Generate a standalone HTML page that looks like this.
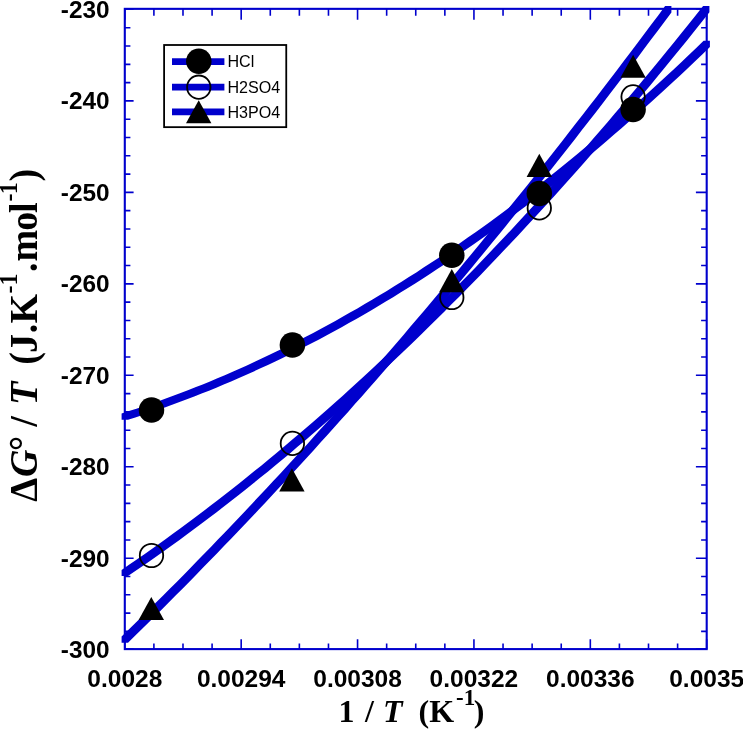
<!DOCTYPE html>
<html lang="en"><head><meta charset="utf-8"><title>Plot</title>
<style>html,body{margin:0;padding:0;background:#fff}svg{display:block}</style></head>
<body>
<svg width="743" height="729" viewBox="0 0 743 729">
<rect width="743" height="729" fill="#fff"/>
<rect x="124.8" y="8.85" width="581.90" height="640.25" fill="none" stroke="#0000cd" stroke-width="2.1"/>
<path d="M124.80,649.1v-9.8M124.80,8.85v10.8M153.90,649.1v-5.6M153.90,8.85v6.9M182.99,649.1v-5.6M182.99,8.85v6.9M212.09,649.1v-5.6M212.09,8.85v6.9M241.18,649.1v-9.8M241.18,8.85v10.8M270.28,649.1v-5.6M270.28,8.85v6.9M299.37,649.1v-5.6M299.37,8.85v6.9M328.47,649.1v-5.6M328.47,8.85v6.9M357.56,649.1v-9.8M357.56,8.85v10.8M386.66,649.1v-5.6M386.66,8.85v6.9M415.75,649.1v-5.6M415.75,8.85v6.9M444.85,649.1v-5.6M444.85,8.85v6.9M473.94,649.1v-9.8M473.94,8.85v10.8M503.04,649.1v-5.6M503.04,8.85v6.9M532.13,649.1v-5.6M532.13,8.85v6.9M561.23,649.1v-5.6M561.23,8.85v6.9M590.32,649.1v-9.8M590.32,8.85v10.8M619.42,649.1v-5.6M619.42,8.85v6.9M648.51,649.1v-5.6M648.51,8.85v6.9M677.61,649.1v-5.6M677.61,8.85v6.9M706.70,649.1v-9.8M706.70,8.85v10.8M124.8,8.85h8.8M706.7,8.85h-10.8M124.8,27.74h5.6M706.7,27.74h-5.6M124.8,46.04h5.6M706.7,46.04h-5.6M124.8,64.33h5.6M706.7,64.33h-5.6M124.8,82.62h5.6M706.7,82.62h-5.6M124.8,100.91h8.8M706.7,100.91h-10.8M124.8,119.21h5.6M706.7,119.21h-5.6M124.8,137.50h5.6M706.7,137.50h-5.6M124.8,155.79h5.6M706.7,155.79h-5.6M124.8,174.09h5.6M706.7,174.09h-5.6M124.8,192.38h8.8M706.7,192.38h-10.8M124.8,210.67h5.6M706.7,210.67h-5.6M124.8,228.96h5.6M706.7,228.96h-5.6M124.8,247.26h5.6M706.7,247.26h-5.6M124.8,265.55h5.6M706.7,265.55h-5.6M124.8,283.84h8.8M706.7,283.84h-10.8M124.8,302.14h5.6M706.7,302.14h-5.6M124.8,320.43h5.6M706.7,320.43h-5.6M124.8,338.72h5.6M706.7,338.72h-5.6M124.8,357.01h5.6M706.7,357.01h-5.6M124.8,375.31h8.8M706.7,375.31h-10.8M124.8,393.60h5.6M706.7,393.60h-5.6M124.8,411.89h5.6M706.7,411.89h-5.6M124.8,430.19h5.6M706.7,430.19h-5.6M124.8,448.48h5.6M706.7,448.48h-5.6M124.8,466.77h8.8M706.7,466.77h-10.8M124.8,485.06h5.6M706.7,485.06h-5.6M124.8,503.36h5.6M706.7,503.36h-5.6M124.8,521.65h5.6M706.7,521.65h-5.6M124.8,539.94h5.6M706.7,539.94h-5.6M124.8,558.24h8.8M706.7,558.24h-10.8M124.8,576.53h5.6M706.7,576.53h-5.6M124.8,594.82h5.6M706.7,594.82h-5.6M124.8,613.11h5.6M706.7,613.11h-5.6M124.8,631.41h5.6M706.7,631.41h-5.6M124.8,649.10h8.8M706.7,649.10h-10.8" stroke="#0000cd" stroke-width="1.6" fill="none"/>
<path d="M121.6,419.7L121.6,413.4L129.0,411.1L136.4,408.7L143.7,406.3L151.1,403.7L158.5,401.2L165.8,398.5L173.2,395.8L180.6,393.0L187.9,390.2L195.3,387.3L202.7,384.4L210.0,381.4L217.4,378.3L224.8,375.2L232.1,372.0L239.5,368.7L246.9,365.4L254.2,362.0L261.6,358.6L269.0,355.1L276.3,351.6L283.7,347.9L291.1,344.3L298.4,340.5L305.8,336.7L313.2,332.9L320.5,328.9L327.9,324.9L335.3,320.9L342.6,316.8L350.0,312.6L357.4,308.4L364.7,304.1L372.1,299.8L379.5,295.3L386.8,290.9L394.2,286.3L401.6,281.7L408.9,277.1L416.3,272.4L423.6,267.6L431.0,262.8L438.4,257.9L445.7,252.9L453.1,247.9L460.5,242.8L467.8,237.6L475.2,232.4L482.6,227.2L489.9,221.9L497.3,216.5L504.7,211.0L512.0,205.5L519.4,199.9L526.8,194.3L534.1,188.6L541.5,182.9L548.9,177.0L556.2,171.2L563.6,165.2L571.0,159.2L578.3,153.2L585.7,147.1L593.1,140.9L600.4,134.6L607.8,128.3L615.2,122.0L622.5,115.5L629.9,109.1L637.3,102.5L644.6,95.9L652.0,89.2L659.4,82.5L666.7,75.7L674.1,68.9L681.5,62.0L688.8,55.0L696.2,47.9L703.6,40.8L709.9,40.8L709.9,47.1L702.5,54.2L695.1,61.3L687.8,68.3L680.4,75.2L673.0,82.0L665.7,88.8L658.3,95.5L650.9,102.2L643.6,108.8L636.2,115.4L628.8,121.8L621.5,128.3L614.1,134.6L606.7,140.9L599.4,147.2L592.0,153.4L584.6,159.5L577.3,165.5L569.9,171.5L562.5,177.5L555.2,183.3L547.8,189.2L540.4,194.9L533.1,200.6L525.7,206.2L518.3,211.8L511.0,217.3L503.6,222.8L496.2,228.2L488.9,233.5L481.5,238.7L474.1,243.9L466.8,249.1L459.4,254.2L452.0,259.2L444.7,264.2L437.3,269.1L429.9,273.9L422.6,278.7L415.2,283.4L407.9,288.0L400.5,292.6L393.1,297.2L385.8,301.6L378.4,306.1L371.0,310.4L363.7,314.7L356.3,318.9L348.9,323.1L341.6,327.2L334.2,331.2L326.8,335.2L319.5,339.2L312.1,343.0L304.7,346.8L297.4,350.6L290.0,354.2L282.6,357.9L275.3,361.4L267.9,364.9L260.5,368.3L253.2,371.7L245.8,375.0L238.4,378.3L231.1,381.5L223.7,384.6L216.3,387.7L209.0,390.7L201.6,393.6L194.2,396.5L186.9,399.3L179.5,402.1L172.1,404.8L164.8,407.5L157.4,410.0L150.0,412.6L142.7,415.0L135.3,417.4L128.0,419.7z" fill="#0000cd"/>
<path d="M121.6,576.1L121.6,569.9L129.0,564.8L136.4,559.8L143.7,554.7L151.1,549.5L158.5,544.3L165.8,539.0L173.2,533.6L180.5,528.3L187.9,522.8L195.3,517.3L202.6,511.8L210.0,506.1L217.3,500.5L224.7,494.8L232.1,489.0L239.4,483.2L246.8,477.3L254.1,471.3L261.5,465.4L268.9,459.3L276.2,453.2L283.6,447.1L290.9,440.8L298.3,434.6L305.7,428.3L313.0,421.9L320.4,415.5L327.8,409.0L335.1,402.4L342.5,395.9L349.8,389.2L357.2,382.5L364.6,375.7L371.9,368.9L379.3,362.1L386.6,355.2L394.0,348.2L401.4,341.2L408.7,334.1L416.1,326.9L423.4,319.7L430.8,312.5L438.2,305.2L445.5,297.8L452.9,290.4L460.2,283.0L467.6,275.4L475.0,267.9L482.3,260.2L489.7,252.5L497.0,244.8L504.4,237.0L511.8,229.2L519.1,221.3L526.5,213.3L533.9,205.3L541.2,197.2L548.6,189.1L555.9,180.9L563.3,172.7L570.7,164.4L578.0,156.1L585.4,147.7L592.7,139.2L600.1,130.7L607.5,122.2L614.8,113.6L622.2,104.9L629.5,96.2L636.9,87.4L644.3,78.6L651.6,69.7L659.0,60.7L666.3,51.7L673.7,42.7L681.1,33.6L688.4,24.4L695.8,15.2L703.1,6.0L709.4,6.0L709.4,12.3L702.1,21.5L694.7,30.7L687.4,39.9L680.0,49.0L672.6,58.0L665.3,67.0L657.9,76.0L650.6,84.9L643.2,93.7L635.8,102.5L628.5,111.2L621.1,119.9L613.8,128.5L606.4,137.0L599.0,145.5L591.7,154.0L584.3,162.4L577.0,170.7L569.6,179.0L562.2,187.2L554.9,195.4L547.5,203.5L540.2,211.6L532.8,219.6L525.4,227.6L518.1,235.5L510.7,243.3L503.3,251.1L496.0,258.8L488.6,266.5L481.3,274.2L473.9,281.7L466.5,289.3L459.2,296.7L451.8,304.1L444.5,311.5L437.1,318.8L429.7,326.0L422.4,333.2L415.0,340.4L407.7,347.5L400.3,354.5L392.9,361.5L385.6,368.4L378.2,375.2L370.9,382.0L363.5,388.8L356.1,395.5L348.8,402.2L341.4,408.7L334.1,415.3L326.7,421.8L319.3,428.2L312.0,434.6L304.6,440.9L297.2,447.1L289.9,453.4L282.5,459.5L275.2,465.6L267.8,471.7L260.4,477.6L253.1,483.6L245.7,489.5L238.4,495.3L231.0,501.1L223.6,506.8L216.3,512.4L208.9,518.1L201.6,523.6L194.2,529.1L186.8,534.6L179.5,539.9L172.1,545.3L164.8,550.6L157.4,555.8L150.0,561.0L142.7,566.1L135.3,571.1L128.0,576.1z" fill="#0000cd"/>
<path d="M121.6,642.7L121.6,636.4L128.5,629.7L135.4,623.0L142.3,616.2L149.2,609.4L156.0,602.6L162.9,595.7L169.8,588.8L176.7,581.9L183.6,574.9L190.4,567.9L197.3,560.8L204.2,553.8L211.1,546.7L217.9,539.5L224.8,532.4L231.7,525.2L238.6,518.0L245.5,510.7L252.3,503.4L259.2,496.1L266.1,488.7L273.0,481.3L279.9,473.9L286.7,466.4L293.6,458.9L300.5,451.4L307.4,443.9L314.2,436.3L321.1,428.6L328.0,421.0L334.9,413.3L341.8,405.6L348.6,397.8L355.5,390.1L362.4,382.2L369.3,374.4L376.2,366.5L383.0,358.6L389.9,350.7L396.8,342.7L403.7,334.7L410.5,326.6L417.4,318.5L424.3,310.4L431.2,302.3L438.1,294.1L444.9,285.9L451.8,277.7L458.7,269.4L465.6,261.1L472.5,252.8L479.3,244.4L486.2,236.0L493.1,227.6L500.0,219.1L506.8,210.6L513.7,202.1L520.6,193.5L527.5,184.9L534.4,176.3L541.2,167.6L548.1,158.9L555.0,150.2L561.9,141.4L568.8,132.6L575.6,123.8L582.5,115.0L589.4,106.1L596.3,97.2L603.1,88.2L610.0,79.2L616.9,70.2L623.8,61.1L630.7,52.1L637.5,42.9L644.4,33.8L651.3,24.6L658.2,15.4L665.1,6.1L671.4,6.1L671.4,12.4L664.5,21.7L657.6,30.9L650.7,40.1L643.8,49.2L637.0,58.4L630.1,67.4L623.2,76.5L616.3,85.5L609.4,94.5L602.6,103.5L595.7,112.4L588.8,121.3L581.9,130.1L575.1,138.9L568.2,147.7L561.3,156.5L554.4,165.2L547.5,173.9L540.7,182.6L533.8,191.2L526.9,199.8L520.0,208.4L513.1,216.9L506.3,225.4L499.4,233.9L492.5,242.3L485.6,250.7L478.8,259.1L471.9,267.4L465.0,275.7L458.1,284.0L451.2,292.2L444.4,300.4L437.5,308.6L430.6,316.7L423.7,324.8L416.8,332.9L410.0,341.0L403.1,349.0L396.2,357.0L389.3,364.9L382.5,372.8L375.6,380.7L368.7,388.5L361.8,396.4L354.9,404.1L348.1,411.9L341.2,419.6L334.3,427.3L327.4,434.9L320.5,442.6L313.7,450.2L306.8,457.7L299.9,465.2L293.0,472.7L286.2,480.2L279.3,487.6L272.4,495.0L265.5,502.4L258.6,509.7L251.8,517.0L244.9,524.3L238.0,531.5L231.1,538.7L224.2,545.8L217.4,553.0L210.5,560.1L203.6,567.1L196.7,574.2L189.9,581.2L183.0,588.2L176.1,595.1L169.2,602.0L162.3,608.9L155.5,615.7L148.6,622.5L141.7,629.3L134.8,636.0L128.0,642.7z" fill="#0000cd"/>
<circle cx="151.5" cy="555.5" r="11.7" fill="none" stroke="#000" stroke-width="1.8"/>
<circle cx="292.4" cy="443.4" r="11.7" fill="none" stroke="#000" stroke-width="1.8"/>
<circle cx="451.8" cy="297.5" r="11.7" fill="none" stroke="#000" stroke-width="1.8"/>
<circle cx="539.3" cy="207.9" r="11.7" fill="none" stroke="#000" stroke-width="1.8"/>
<circle cx="633.1" cy="96.8" r="11.7" fill="none" stroke="#000" stroke-width="1.8"/>
<path d="M151.3,597.0L164.0,620.1L138.60000000000002,620.1z" fill="#000"/>
<path d="M291.9,468.29999999999995L304.59999999999997,491.4L279.2,491.4z" fill="#000"/>
<path d="M451.8,269.09999999999997L464.5,292.2L439.1,292.2z" fill="#000"/>
<path d="M539.3,153.8L552.0,176.9L526.5999999999999,176.9z" fill="#000"/>
<path d="M633.1,54.699999999999996L645.8000000000001,77.8L620.4,77.8z" fill="#000"/>
<circle cx="151.5" cy="410" r="12.75" fill="#000"/>
<circle cx="292.4" cy="345.1" r="12.75" fill="#000"/>
<circle cx="451.8" cy="255.2" r="12.75" fill="#000"/>
<circle cx="539.3" cy="193.4" r="12.75" fill="#000"/>
<circle cx="633.1" cy="109.4" r="12.75" fill="#000"/>
<rect x="164.1" y="45" width="122.15" height="82.15" fill="#fff" stroke="#000" stroke-width="1.8"/>
<path d="M172,61.6H224.4" stroke="#0000cd" stroke-width="6.7"/>
<path d="M172,87.2H224.4" stroke="#0000cd" stroke-width="6.7"/>
<path d="M172,111.8H224.4" stroke="#0000cd" stroke-width="6.7"/>
<circle cx="198.8" cy="61.2" r="12.75" fill="#000"/>
<circle cx="198.8" cy="87.2" r="11.7" fill="none" stroke="#000" stroke-width="1.8"/>
<path d="M198.7,100.25L211.39999999999998,123.35L186.0,123.35z" fill="#000"/>
<text x="227.4" y="66.6" font-family="Liberation Sans, Arial, Helvetica, sans-serif" font-size="16.1">HCl</text>
<text x="227.4" y="92.7" font-family="Liberation Sans, Arial, Helvetica, sans-serif" font-size="16.1">H2SO4</text>
<text x="227.4" y="117.7" font-family="Liberation Sans, Arial, Helvetica, sans-serif" font-size="16.1">H3PO4</text>
<text x="109.6" y="17.9" text-anchor="end" font-family="Liberation Sans, Arial, Helvetica, sans-serif" font-weight="bold" font-size="24.4">-230</text>
<text x="109.6" y="109.3" text-anchor="end" font-family="Liberation Sans, Arial, Helvetica, sans-serif" font-weight="bold" font-size="24.4">-240</text>
<text x="109.6" y="200.8" text-anchor="end" font-family="Liberation Sans, Arial, Helvetica, sans-serif" font-weight="bold" font-size="24.4">-250</text>
<text x="109.6" y="292.2" text-anchor="end" font-family="Liberation Sans, Arial, Helvetica, sans-serif" font-weight="bold" font-size="24.4">-260</text>
<text x="109.6" y="383.7" text-anchor="end" font-family="Liberation Sans, Arial, Helvetica, sans-serif" font-weight="bold" font-size="24.4">-270</text>
<text x="109.6" y="475.2" text-anchor="end" font-family="Liberation Sans, Arial, Helvetica, sans-serif" font-weight="bold" font-size="24.4">-280</text>
<text x="109.6" y="566.6" text-anchor="end" font-family="Liberation Sans, Arial, Helvetica, sans-serif" font-weight="bold" font-size="24.4">-290</text>
<text x="109.6" y="658.1" text-anchor="end" font-family="Liberation Sans, Arial, Helvetica, sans-serif" font-weight="bold" font-size="24.4">-300</text>
<text x="124.8" y="687" text-anchor="middle" font-family="Liberation Sans, Arial, Helvetica, sans-serif" font-weight="bold" font-size="24.5">0.0028</text>
<text x="241.2" y="687" text-anchor="middle" font-family="Liberation Sans, Arial, Helvetica, sans-serif" font-weight="bold" font-size="24.5">0.00294</text>
<text x="357.6" y="687" text-anchor="middle" font-family="Liberation Sans, Arial, Helvetica, sans-serif" font-weight="bold" font-size="24.5">0.00308</text>
<text x="473.9" y="687" text-anchor="middle" font-family="Liberation Sans, Arial, Helvetica, sans-serif" font-weight="bold" font-size="24.5">0.00322</text>
<text x="590.3" y="687" text-anchor="middle" font-family="Liberation Sans, Arial, Helvetica, sans-serif" font-weight="bold" font-size="24.5">0.00336</text>
<text x="706.7" y="687" text-anchor="middle" font-family="Liberation Sans, Arial, Helvetica, sans-serif" font-weight="bold" font-size="24.5">0.0035</text>
<text y="721.8" font-family="Liberation Serif, Times New Roman, Times, serif" font-weight="bold" font-size="32"><tspan x="338.4">1</tspan><tspan x="365">/</tspan><tspan x="383" font-style="italic">T</tspan><tspan x="418.6">(K</tspan><tspan x="456" dy="-16.4" font-size="23">-1</tspan><tspan x="473.8" dy="16.4">)</tspan></text>
<g transform="translate(36.5,0) rotate(-90) scale(1,1.03)"><text font-family="Liberation Serif, Times New Roman, Times, serif" font-weight="bold" font-size="38"><tspan x="-501.7" y="0" font-size="38">Δ</tspan><tspan x="-477.0" y="0" font-size="38" font-style="italic">G</tspan><tspan x="-451.1" y="0" font-size="38">°</tspan><tspan x="-426.7" y="0" font-size="38">/</tspan><tspan x="-404.9" y="0" font-size="38" font-style="italic">T</tspan><tspan x="-364.7" y="0" font-size="38">(</tspan><tspan x="-352.9" y="0" font-size="38">J</tspan><tspan x="-333.2" y="0" font-size="38">.</tspan><tspan x="-323.5" y="0" font-size="38">K</tspan><tspan x="-293.4" y="-19.2" font-size="24">-</tspan><tspan x="-285.5" y="-19.2" font-size="24">1</tspan><tspan x="-271.9" y="0" font-size="38">.</tspan><tspan x="-261.6" y="0" font-size="38">m</tspan><tspan x="-230.7" y="0" font-size="38">o</tspan><tspan x="-213.1" y="0" font-size="38">l</tspan><tspan x="-201.4" y="-19.2" font-size="24">-</tspan><tspan x="-194.3" y="-19.2" font-size="24">1</tspan><tspan x="-181.4" y="0" font-size="38">)</tspan></text></g>
</svg>
</body></html>
